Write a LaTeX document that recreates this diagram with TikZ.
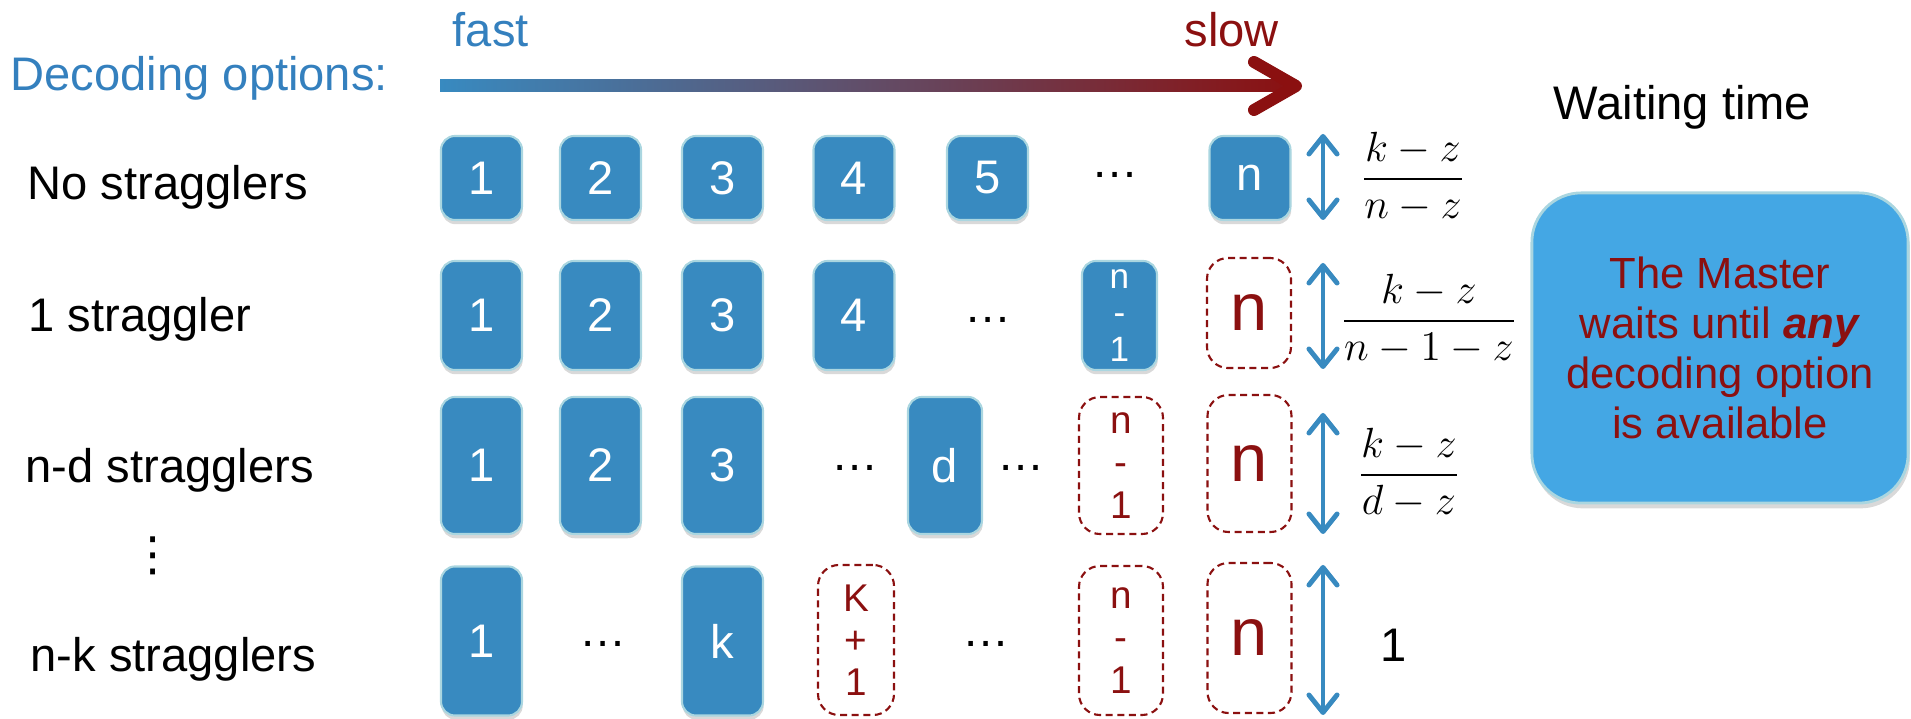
\documentclass[tikz,border=0pt]{standalone}
\usepackage{fontspec}
\setmainfont{Liberation Sans}
\newfontfamily\symbfont{DejaVu Sans}
\usetikzlibrary{arrows.meta,positioning,shadows}

\definecolor{fastblue}{RGB}{52,128,190}
\definecolor{slowred}{RGB}{139,16,16}
\definecolor{workerblue}{RGB}{56,138,192}
\definecolor{rimblue}{RGB}{170,214,224}
\definecolor{masterblue}{RGB}{68,167,228}

\newcommand{\sizelbl}{\fontsize{13.4pt}{16pt}\selectfont}
\newcommand{\sizesmall}{\fontsize{10pt}{10.5pt}\selectfont}
\newcommand{\sizestack}{\fontsize{11pt}{12pt}\selectfont}
\newcommand{\sizebig}{\fontsize{19pt}{20pt}\selectfont}
\newcommand{\sizemath}{\fontsize{12.2pt}{14pt}\selectfont}
\newcommand{\sizemaster}{\fontsize{12.4pt}{14.2pt}\selectfont}

\begin{document}
\begin{tikzpicture}[x=0.01cm, y=-0.01cm,
    txt/.style={inner sep=0pt, font=\sizelbl},
    gap/.style={txt, anchor=base},
    worker/.style={rectangle, rounded corners=4pt, fill=workerblue, draw=rimblue, line width=0.6pt, text=white, font=\sizelbl, inner sep=0pt, minimum width=0.81cm, align=center, drop shadow={opacity=0.3, shadow xshift=0.2pt, shadow yshift=-1.2pt}},
    late/.style={rectangle, rounded corners=6pt, fill=white, draw=slowred, dash pattern=on 2pt off 1.3pt, line width=0.6pt, text=slowred, inner sep=0pt, minimum width=0.84cm, align=center},
    master/.style={rectangle, rounded corners=14pt, fill=masterblue, draw=rimblue, line width=0.8pt, text=slowred, font=\sizemaster, align=center, minimum width=3.76cm, minimum height=3.1cm, drop shadow={opacity=0.3, shadow xshift=0.5pt, shadow yshift=-1.5pt}},
    twoway/.style={{Straight Barb[round,length=5pt,width=8pt]}-{Straight Barb[round,length=5pt,width=8pt]}, draw=workerblue, line width=1.4pt}
]
\useasboundingbox (0,0) rectangle (1911,719);

% header
\node[txt, anchor=base west, text=fastblue] (fast) at (452,47) {fast};
\node[txt, anchor=base west, text=slowred] (slow) at (1184,47) {slow};
\node[txt, anchor=base west, text=fastblue] (decode) at (10,91) {Decoding options:};
\node[txt, anchor=base west] (wait) at (1553,120) {Waiting time};

% fast -> slow arrow
\coordinate (tstart) at (440,86);
\coordinate (tend) at (1296,86);
\shade[left color=workerblue, right color=slowred] (440,80) rectangle (1296,92);
\draw[slowred, line width=0.12cm, line cap=round, line join=round] (1254,62) -- (tend) -- (1254,110);

% row labels
\node[txt, anchor=base west] (rowa) at (27,200) {No stragglers};
\node[txt, anchor=base west] (rowb) at (28,332) {1 straggler};
\node[txt, anchor=base west] (rowc) at (25,483) {n-d stragglers};
\node[txt, font=\symbfont\fontsize{13.4pt}{16pt}\selectfont] (rowdots) at (153,556) {⋮};
\node[txt, anchor=base west] (rowd) at (30,672) {n-k stragglers};

% no stragglers
\node[worker, minimum height=0.84cm] (a1) at (481.5,178) {1};
\node[worker, minimum height=0.84cm] (a2) at (600.5,178) {2};
\node[worker, minimum height=0.84cm] (a3) at (722.5,178) {3};
\node[worker, minimum height=0.84cm] (a4) at (854,178) {4};
\node[worker, minimum height=0.84cm] (a5) at (987.5,178) {5};
\node[gap] (adots) at (1115,178) {…};
\node[worker, minimum height=0.84cm] (an) at (1250,178) {n};

% 1 straggler
\node[worker, minimum height=1.09cm] (b1) at (481.5,315.5) {1};
\node[worker, minimum height=1.09cm] (b2) at (600.5,315.5) {2};
\node[worker, minimum height=1.09cm] (b3) at (722.5,315.5) {3};
\node[worker, minimum height=1.09cm] (b4) at (854,315.5) {4};
\node[gap] (bdots) at (988,323) {…};
\node[worker, minimum height=1.09cm, minimum width=0.75cm, font=\sizesmall] (bm) at (1119.5,315.5) {n\\-\\1};
\node[late, minimum height=1.10cm, font=\sizebig] (bn) at (1249,313) {n};

% n-d stragglers
\node[worker, minimum height=1.37cm] (c1) at (481.5,465.5) {1};
\node[worker, minimum height=1.37cm] (c2) at (600.5,465.5) {2};
\node[worker, minimum height=1.37cm] (c3) at (722.5,465.5) {3};
\node[gap] (cdots) at (855,471) {…};
\node[worker, minimum height=1.37cm, minimum width=0.74cm] (cd) at (945,465.5) {d};
\node[gap] (cdotsb) at (1021,471) {…};
\node[late, minimum height=1.37cm, font=\sizestack] (cm) at (1121,465.5) {n\\-\\1};
\node[late, minimum height=1.37cm, font=\sizebig] (cn) at (1249.5,463.5) {n};

% n-k stragglers
\node[worker, minimum height=1.49cm] (d1) at (481.5,641) {1};
\node[gap] (ddots) at (603,647) {…};
\node[worker, minimum height=1.49cm] (dk) at (722.5,641) {k};
\node[late, minimum height=1.50cm, minimum width=0.76cm, font=\sizestack] (dk1) at (856,640) {K\\+\\1};
\node[gap] (ddotsb) at (986,647) {…};
\node[late, minimum height=1.49cm, font=\sizestack] (dm) at (1121,640.5) {n\\-\\1};
\node[late, minimum height=1.50cm, font=\sizebig] (dn) at (1249.5,638) {n};

% waiting times
\coordinate (ta) at (1323,134); \coordinate (ba) at (1323,220);
\coordinate (tb) at (1323,263); \coordinate (bb) at (1323,369);
\coordinate (tc) at (1323,413); \coordinate (bc) at (1323,534);
\coordinate (td) at (1323,565); \coordinate (bd) at (1323,715);
\draw[twoway] (ta) -- (ba);
\draw[twoway] (tb) -- (bb);
\draw[twoway] (tc) -- (bc);
\draw[twoway] (td) -- (bd);
\node[font=\sizemath] (wa) at (1413,177) {$\displaystyle\frac{k-z}{n-z}$};
\node[font=\sizemath] (wb) at (1429,319) {$\displaystyle\frac{k-z}{n-1-z}$};
\node[font=\sizemath] (wc) at (1409,473) {$\displaystyle\frac{k-z}{d-z}$};
\node[txt] (wd) at (1394,645) {1};

% master
\node[master] (boss) at (1720,348) {The Master\\waits until \textbf{\textit{any}}\\decoding option\\is available};
\end{tikzpicture}
\end{document}
